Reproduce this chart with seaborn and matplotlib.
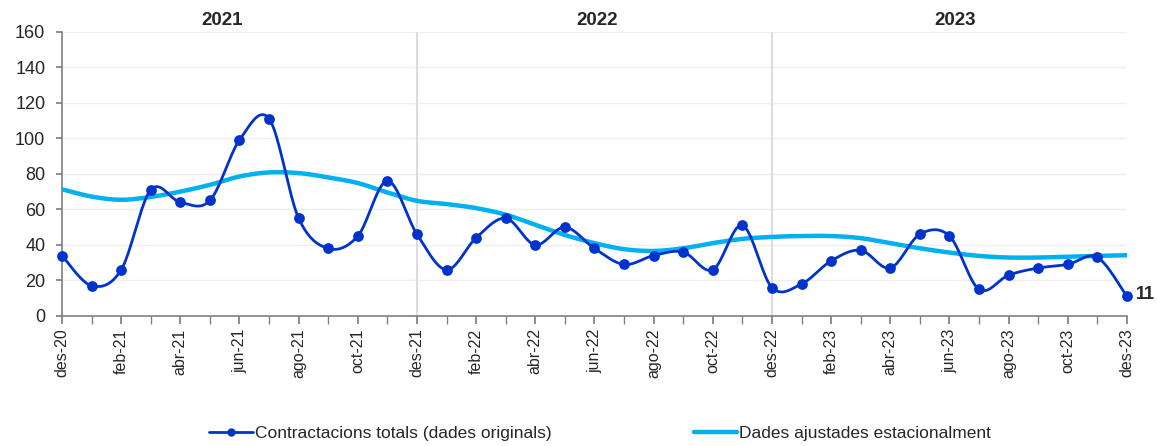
import numpy as np
import pandas as pd
import seaborn as sns
import matplotlib.pyplot as plt
from matplotlib.lines import Line2D

# Monthly labels, des-20 .. des-23
months = ['des-20',
          'gen-21', 'feb-21', 'mar-21', 'abr-21', 'mai-21', 'jun-21',
          'jul-21', 'ago-21', 'set-21', 'oct-21', 'nov-21', 'des-21',
          'gen-22', 'feb-22', 'mar-22', 'abr-22', 'mai-22', 'jun-22',
          'jul-22', 'ago-22', 'set-22', 'oct-22', 'nov-22', 'des-22',
          'gen-23', 'feb-23', 'mar-23', 'abr-23', 'mai-23', 'jun-23',
          'jul-23', 'ago-23', 'set-23', 'oct-23', 'nov-23', 'des-23']

original = [34, 17, 26, 71, 64, 65, 99, 111, 55, 38, 45, 76, 46,
            26, 44, 55, 40, 50, 38, 29, 34, 36, 26, 51, 16,
            18, 31, 37, 27, 46, 45, 15, 23, 27, 29, 33, 11]

adjusted = [71.3, 67.2, 65.4, 67.0, 70.0, 73.8, 78.5, 80.8, 80.4, 78.0, 74.8, 69.5, 64.8,
            63.0, 60.7, 57.0, 51.3, 45.6, 41.0, 37.6, 36.6, 38.1, 41.0, 43.4, 44.5,
            45.0, 45.0, 43.8, 41.0, 38.1, 35.7, 33.8, 32.9, 32.9, 33.4, 33.8, 34.2]

years = ['2021', '2022', '2023']
year_pos = [5.4, 18.1, 30.2]

label_orig = 'Contractacions totals (dades originals)'
label_adj = 'Dades ajustades estacionalment'

dark = '#0033CC'
light = '#00B0F0'


# Excel-style smoothed line (Catmull-Rom through the data points)
def smooth(y, n=20):
    y = np.asarray(y, float)
    x = np.arange(len(y), dtype=float)
    px = np.concatenate([[x[0]], x, [x[-1]]])
    py = np.concatenate([[y[0]], y, [y[-1]]])
    xs, ys = [], []
    for i in range(len(y) - 1):
        p0x, p1x, p2x, p3x = px[i:i + 4]
        p0y, p1y, p2y, p3y = py[i:i + 4]
        t = np.linspace(0, 1, n, endpoint=False)
        for a, b, c, d, out in ((p0x, p1x, p2x, p3x, xs), (p0y, p1y, p2y, p3y, ys)):
            out.extend(0.5 * ((2 * b) + (-a + c) * t + (2 * a - 5 * b + 4 * c - d) * t ** 2
                              + (-a + 3 * b - 3 * c + d) * t ** 3))
    xs.append(x[-1])
    ys.append(y[-1])
    return np.array(xs), np.array(ys)


sns.set_theme(style='white')
plt.rcParams['font.family'] = ['Liberation Sans', 'DejaVu Sans']

fig = plt.figure(figsize=(11.57, 4.46), dpi=100)
ax = fig.add_axes([0.0536, 0.2915, 0.9204, 0.6375])

xa, ya = smooth(adjusted)
xo, yo = smooth(original)
sns.lineplot(x=xa, y=ya, ax=ax, color=light, linewidth=3.2, sort=False, zorder=3)
sns.lineplot(x=xo, y=yo, ax=ax, color=dark, linewidth=2.0, sort=False, zorder=4)
df = pd.DataFrame({'i': np.arange(len(original)), 'v': original})
sns.scatterplot(data=df, x='i', y='v', ax=ax, color=dark, s=60, edgecolor=dark,
                linewidth=0, zorder=5, clip_on=False)

# grid and year separators
for v in range(20, 161, 20):
    ax.axhline(v, color='#efefef', linewidth=1.0, zorder=0)
for v in (12, 24):
    ax.axvline(v, color='#dcdcdc', linewidth=1.5, zorder=1)

ax.set_xlim(0, len(months) - 1)
ax.set_ylim(0, 160)
ax.set_yticks(range(0, 161, 20))
ax.set_xticks(range(0, len(months), 2))
ax.set_xticklabels(months[::2], rotation=90, fontsize=11.5)
ax.set_xticks(range(len(months)), minor=True)
ax.tick_params(axis='y', labelsize=13, length=4, direction='out', left=True,
               color='#808080', pad=8)
ax.tick_params(axis='x', which='both', length=6, direction='out', bottom=True,
               color='#808080', pad=3)
for s in ('top', 'right'):
    ax.spines[s].set_visible(False)
for s in ('left', 'bottom'):
    ax.spines[s].set_color('#808080')
    ax.spines[s].set_linewidth(1.2)
ax.set_xlabel('')
ax.set_ylabel('')

for yr, xp in zip(years, year_pos):
    ax.text(xp, 161.5, yr, ha='center', va='bottom', fontsize=13.5, fontweight='bold')

ax.text(len(months) - 1 + 0.3, original[-1] + 1, str(original[-1]), ha='left', va='center',
        fontsize=13, fontweight='bold', clip_on=False)

handles = [Line2D([0], [0], color=dark, linewidth=2.0, marker='o', markersize=5),
           Line2D([0], [0], color=light, linewidth=3.2)]
fig.legend(handles, [label_orig, label_adj], loc='center', bbox_to_anchor=(0.5186, 0.028),
           ncol=2, frameon=False, fontsize=12.5, handlelength=2.5, handletextpad=0.1,
           columnspacing=8.2)

fig.savefig('out.png', dpi=100)
